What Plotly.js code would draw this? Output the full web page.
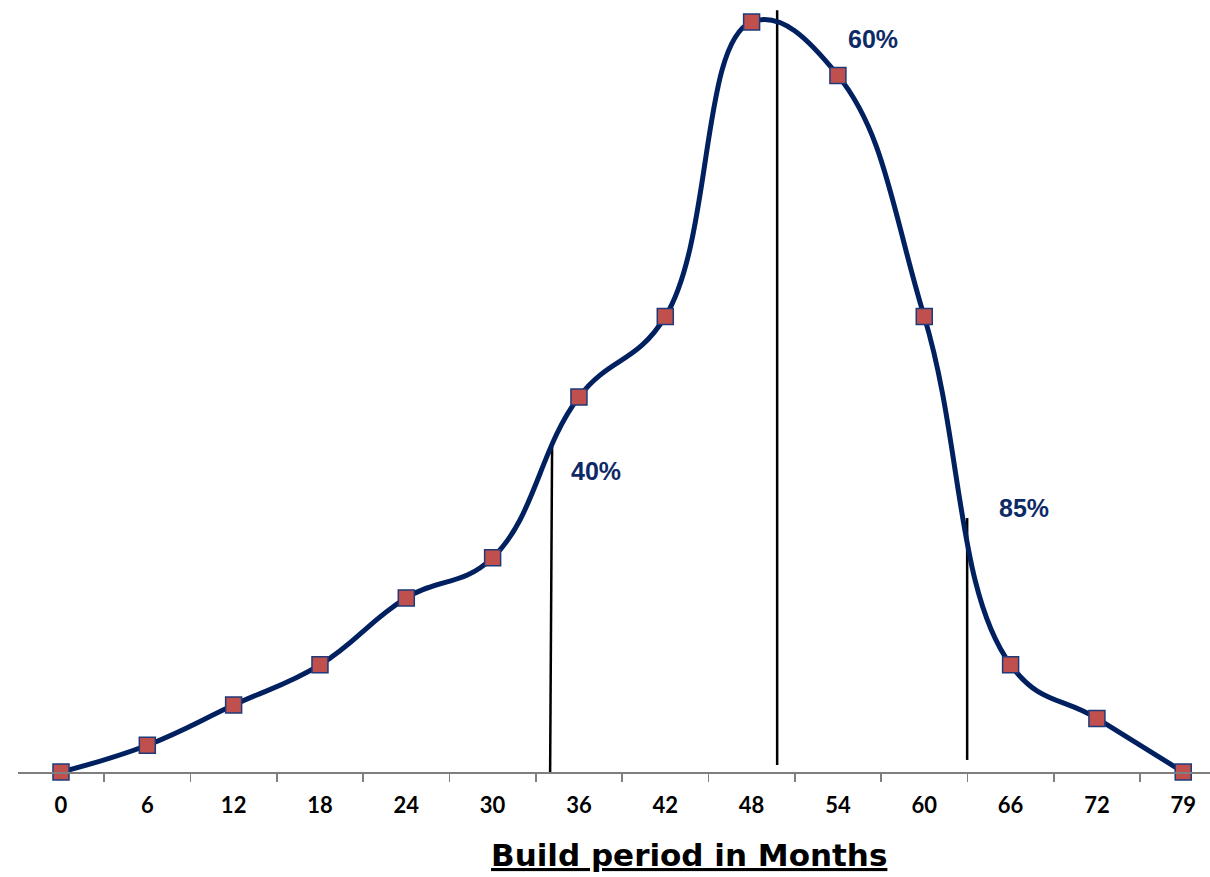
<!DOCTYPE html>
<html>
<head>
<meta charset="utf-8">
<script src="https://cdn.plot.ly/plotly-3.0.1.min.js"></script>
<style>html,body{margin:0;padding:0;background:#fff;}#chart{width:1210px;height:877px;}</style>
</head>
<body>
<div id="chart"></div>
<script>
// Build period categories (months)
var months = ["0","6","12","18","24","30","36","42","48","54","60","66","72","79"];
// Series values
var values = [0, 1, 2.5, 4, 6.5, 8, 14, 17, 28, 26, 17, 4, 2, 0];

// Percentile markers: position in category-index units, top value
var markerLabels = ["40%", "60%", "85%"];
var markerXTop = [5.689, 8.296, 10.497];
var markerXBottom = [5.666, 8.296, 10.497];
var markerYTop = [12.13, 28.44, 9.48];
var markerYBottom = [0, 0.26, 0.45];
var labelX = [6.20, 9.41, 11.16];
var labelY = [11.24, 27.36, 9.85];

var xTitle = "Build period in Months";

var yMin = -0.933, yMax = 28.82;
var axisPos = (0 - yMin) / (yMax - yMin);

var navy = "#002060";

var traces = [{
  type: "scatter",
  mode: "lines+markers",
  x: months,
  y: values,
  line: {shape: "spline", smoothing: 1.2, color: navy, width: 5},
  marker: {symbol: "square", size: 16, color: "#c0504d", line: {color: "#1f3a78", width: 1.5}},
  cliponaxis: false,
  hoverinfo: "x+y"
}];

var shapes = [];
var annotations = [];
for (var i = 0; i < markerLabels.length; i++) {
  shapes.push({
    type: "line", xref: "x", yref: "y",
    x0: markerXBottom[i], y0: markerYBottom[i],
    x1: markerXTop[i], y1: markerYTop[i],
    line: {color: "#000000", width: 2.5},
    layer: "below"
  });
  annotations.push({
    xref: "x", yref: "y", x: labelX[i], y: labelY[i],
    text: markerLabels[i],
    showarrow: false,
    font: {family: "Arial", size: 25, color: "#0e2a66", weight: "bold"}
  });
}
// axis title (offset to the right as in the original)
annotations.push({
  xref: "paper", yref: "paper", x: 0.563, y: -0.0728,
  xanchor: "center", yanchor: "middle",
  text: xTitle, showarrow: false,
  font: {family: "DejaVu Sans", size: 31, color: "#000000", weight: "bold", lineposition: "under"}
});

var layout = {
  width: 1210, height: 877,
  margin: {l: 18, r: 0, t: 0, b: 80},
  paper_bgcolor: "#ffffff",
  plot_bgcolor: "#ffffff",
  showlegend: false,
  xaxis: {
    type: "category",
    range: [-0.498, 13.31],
    anchor: "free",
    position: axisPos,
    showgrid: false,
    zeroline: false,
    showline: true,
    linecolor: "#7f7f7f",
    linewidth: 1.5,
    ticks: "outside",
    tickson: "boundaries",
    ticklen: 8,
    tickwidth: 1.5,
    tickcolor: "#7f7f7f",
    ticklabelstandoff: 13,
    tickfont: {family: "Lato", size: 22, color: "#000000", weight: "bold"},
    automargin: false
  },
  yaxis: {
    range: [yMin, yMax],
    visible: false,
    showgrid: false,
    zeroline: false
  },
  shapes: shapes,
  annotations: annotations
};

Plotly.newPlot("chart", traces, layout, {displayModeBar: false, staticPlot: true});
</script>
</body>
</html>
